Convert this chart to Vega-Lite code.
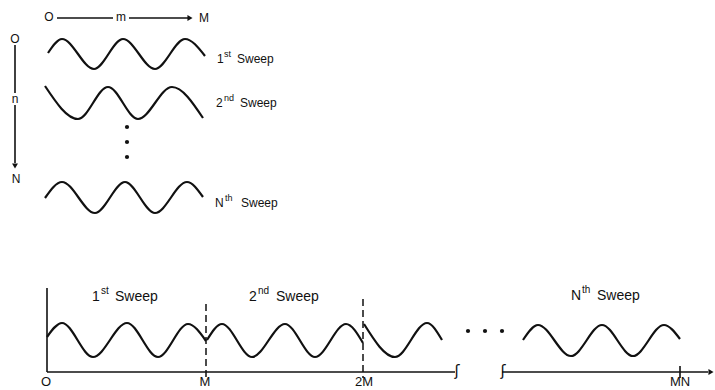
{
  "$schema": "https://vega.github.io/schema/vega-lite/v6.json",
  "width": 715,
  "height": 390,
  "autosize": {"type": "none"},
  "padding": 0,
  "background": "white",
  "config": {"view": {"stroke": null}, "text": {"font": "Liberation Sans", "color": "#111"}},
  "datasets": {
    "waves": [
      {"w": "t1", "x": 48, "y": 53}, {"w": "t1", "x": 62, "y": 39}, {"w": "t1", "x": 94, "y": 69}, {"w": "t1", "x": 123, "y": 39}, {"w": "t1", "x": 155, "y": 69}, {"w": "t1", "x": 185, "y": 39}, {"w": "t1", "x": 205, "y": 56},
      {"w": "t2", "x": 45, "y": 86}, {"w": "t2", "x": 78, "y": 119}, {"w": "t2", "x": 108, "y": 87}, {"w": "t2", "x": 138, "y": 119}, {"w": "t2", "x": 172, "y": 87}, {"w": "t2", "x": 203, "y": 118},
      {"w": "tN", "x": 45, "y": 198}, {"w": "tN", "x": 62, "y": 182}, {"w": "tN", "x": 95, "y": 213}, {"w": "tN", "x": 125, "y": 182}, {"w": "tN", "x": 155, "y": 213}, {"w": "tN", "x": 187, "y": 182}, {"w": "tN", "x": 203, "y": 197},
      {"w": "b1", "x": 47, "y": 337}, {"w": "b1", "x": 62, "y": 323}, {"w": "b1", "x": 93, "y": 357}, {"w": "b1", "x": 127, "y": 323}, {"w": "b1", "x": 158, "y": 357}, {"w": "b1", "x": 188, "y": 324}, {"w": "b1", "x": 206, "y": 341},
      {"w": "b2", "x": 207, "y": 340}, {"w": "b2", "x": 222, "y": 324}, {"w": "b2", "x": 252, "y": 357}, {"w": "b2", "x": 285, "y": 324}, {"w": "b2", "x": 315, "y": 357}, {"w": "b2", "x": 346, "y": 324}, {"w": "b2", "x": 363, "y": 343},
      {"w": "b3", "x": 364, "y": 324}, {"w": "b3", "x": 395, "y": 357}, {"w": "b3", "x": 427, "y": 323}, {"w": "b3", "x": 442, "y": 340},
      {"w": "bN", "x": 523, "y": 340}, {"w": "bN", "x": 538, "y": 325}, {"w": "bN", "x": 571, "y": 356}, {"w": "bN", "x": 602, "y": 325}, {"w": "bN", "x": 633, "y": 356}, {"w": "bN", "x": 664, "y": 325}, {"w": "bN", "x": 680, "y": 339}
    ],
    "rules": [
      {"x": 57, "x2": 113, "y": 18, "y2": 18},
      {"x": 129, "x2": 188, "y": 18, "y2": 18},
      {"x": 15, "x2": 15, "y": 45, "y2": 93},
      {"x": 15, "x2": 15, "y": 105, "y2": 163},
      {"x": 47, "x2": 47, "y": 288, "y2": 372},
      {"x": 47, "x2": 455, "y": 372, "y2": 372},
      {"x": 502, "x2": 708, "y": 372, "y2": 372},
      {"x": 680, "x2": 680, "y": 366, "y2": 378}
    ],
    "dashes": [
      {"x": 206, "x2": 206, "y": 304, "y2": 378},
      {"x": 363, "x2": 363, "y": 299, "y2": 378}
    ],
    "arrows": [
      {"x": 190, "y": 18, "dir": "right"},
      {"x": 15, "y": 166, "dir": "down"},
      {"x": 711, "y": 372, "dir": "right"}
    ],
    "dots": [
      {"x": 127, "y": 127}, {"x": 127, "y": 142}, {"x": 127, "y": 157},
      {"x": 468, "y": 331}, {"x": 485, "y": 331}, {"x": 502, "y": 331}
    ],
    "braces": [
      {"x": 457, "y": 371, "t": "ʃ"},
      {"x": 503, "y": 371, "t": "ʃ"}
    ],
    "axlabels": [
      {"x": 49, "y": 17, "t": "O"}, {"x": 121, "y": 17, "t": "m"}, {"x": 204, "y": 18, "t": "M"},
      {"x": 15, "y": 39, "t": "O"}, {"x": 15, "y": 99, "t": "n"}, {"x": 16, "y": 179, "t": "N"}
    ],
    "toplabels": [
      {"x": 217, "y": 63, "t": "1"}, {"x": 237, "y": 63, "t": "Sweep"},
      {"x": 216, "y": 107, "t": "2"}, {"x": 240, "y": 107, "t": "Sweep"},
      {"x": 215, "y": 207, "t": "N"}, {"x": 241, "y": 207, "t": "Sweep"}
    ],
    "topsup": [
      {"x": 224, "y": 57, "t": "st"}, {"x": 224, "y": 101, "t": "nd"}, {"x": 225, "y": 201, "t": "th"}
    ],
    "botlabels": [
      {"x": 92, "y": 301, "t": "1"}, {"x": 115, "y": 301, "t": "Sweep"},
      {"x": 249, "y": 301, "t": "2"}, {"x": 276, "y": 301, "t": "Sweep"},
      {"x": 571, "y": 300, "t": "N"}, {"x": 597, "y": 300, "t": "Sweep"}
    ],
    "botsup": [
      {"x": 101, "y": 294, "t": "st"}, {"x": 258, "y": 294, "t": "nd"}, {"x": 582, "y": 293, "t": "th"}
    ],
    "ticklabels": [
      {"x": 46, "y": 376, "t": "O"}, {"x": 205, "y": 376, "t": "M"}, {"x": 364, "y": 376, "t": "2M"}, {"x": 680, "y": 376, "t": "MN"}
    ]
  },
  "layer": [
    {
      "data": {"name": "waves"},
      "mark": {"type": "line", "interpolate": "monotone", "color": "#111", "strokeWidth": 2.2},
      "encoding": {
        "x": {"field": "x", "type": "quantitative", "scale": {"domain": [0, 715], "nice": false, "zero": false}, "axis": null},
        "y": {"field": "y", "type": "quantitative", "scale": {"domain": [0, 390], "nice": false, "zero": false, "reverse": true}, "axis": null},
        "detail": {"field": "w", "type": "nominal"}
      }
    },
    {
      "data": {"name": "rules"},
      "mark": {"type": "rule", "color": "#111", "strokeWidth": 1.6},
      "encoding": {
        "x": {"field": "x", "type": "quantitative"},
        "x2": {"field": "x2"},
        "y": {"field": "y", "type": "quantitative"},
        "y2": {"field": "y2"}
      }
    },
    {
      "data": {"name": "dashes"},
      "mark": {"type": "rule", "color": "#111", "strokeWidth": 1.5, "strokeDash": [7, 4]},
      "encoding": {
        "x": {"field": "x", "type": "quantitative"},
        "x2": {"field": "x2"},
        "y": {"field": "y", "type": "quantitative"},
        "y2": {"field": "y2"}
      }
    },
    {
      "data": {"name": "arrows"},
      "mark": {"type": "point", "filled": true, "color": "#111", "size": 35, "opacity": 1},
      "encoding": {
        "x": {"field": "x", "type": "quantitative"},
        "y": {"field": "y", "type": "quantitative"},
        "shape": {"field": "dir", "type": "nominal", "scale": {"domain": ["right", "down"], "range": ["triangle-right", "triangle-down"]}, "legend": null}
      }
    },
    {
      "data": {"name": "dots"},
      "mark": {"type": "circle", "color": "#111", "size": 18, "opacity": 1},
      "encoding": {
        "x": {"field": "x", "type": "quantitative"},
        "y": {"field": "y", "type": "quantitative"}
      }
    },
    {
      "data": {"name": "braces"},
      "mark": {"type": "text", "font": "DejaVu Sans", "fontSize": 15, "align": "center", "baseline": "middle"},
      "encoding": {
        "x": {"field": "x", "type": "quantitative"},
        "y": {"field": "y", "type": "quantitative"},
        "text": {"field": "t"}
      }
    },
    {
      "data": {"name": "axlabels"},
      "mark": {"type": "text", "fontSize": 12, "align": "center", "baseline": "middle"},
      "encoding": {
        "x": {"field": "x", "type": "quantitative"},
        "y": {"field": "y", "type": "quantitative"},
        "text": {"field": "t"}
      }
    },
    {
      "data": {"name": "toplabels"},
      "mark": {"type": "text", "fontSize": 12, "align": "left", "baseline": "alphabetic"},
      "encoding": {
        "x": {"field": "x", "type": "quantitative"},
        "y": {"field": "y", "type": "quantitative"},
        "text": {"field": "t"}
      }
    },
    {
      "data": {"name": "topsup"},
      "mark": {"type": "text", "fontSize": 9, "align": "left", "baseline": "alphabetic"},
      "encoding": {
        "x": {"field": "x", "type": "quantitative"},
        "y": {"field": "y", "type": "quantitative"},
        "text": {"field": "t"}
      }
    },
    {
      "data": {"name": "botlabels"},
      "mark": {"type": "text", "fontSize": 14, "align": "left", "baseline": "alphabetic"},
      "encoding": {
        "x": {"field": "x", "type": "quantitative"},
        "y": {"field": "y", "type": "quantitative"},
        "text": {"field": "t"}
      }
    },
    {
      "data": {"name": "botsup"},
      "mark": {"type": "text", "fontSize": 10, "align": "left", "baseline": "alphabetic"},
      "encoding": {
        "x": {"field": "x", "type": "quantitative"},
        "y": {"field": "y", "type": "quantitative"},
        "text": {"field": "t"}
      }
    },
    {
      "data": {"name": "ticklabels"},
      "mark": {"type": "text", "fontSize": 13, "align": "center", "baseline": "top"},
      "encoding": {
        "x": {"field": "x", "type": "quantitative"},
        "y": {"field": "y", "type": "quantitative"},
        "text": {"field": "t"}
      }
    }
  ]
}
